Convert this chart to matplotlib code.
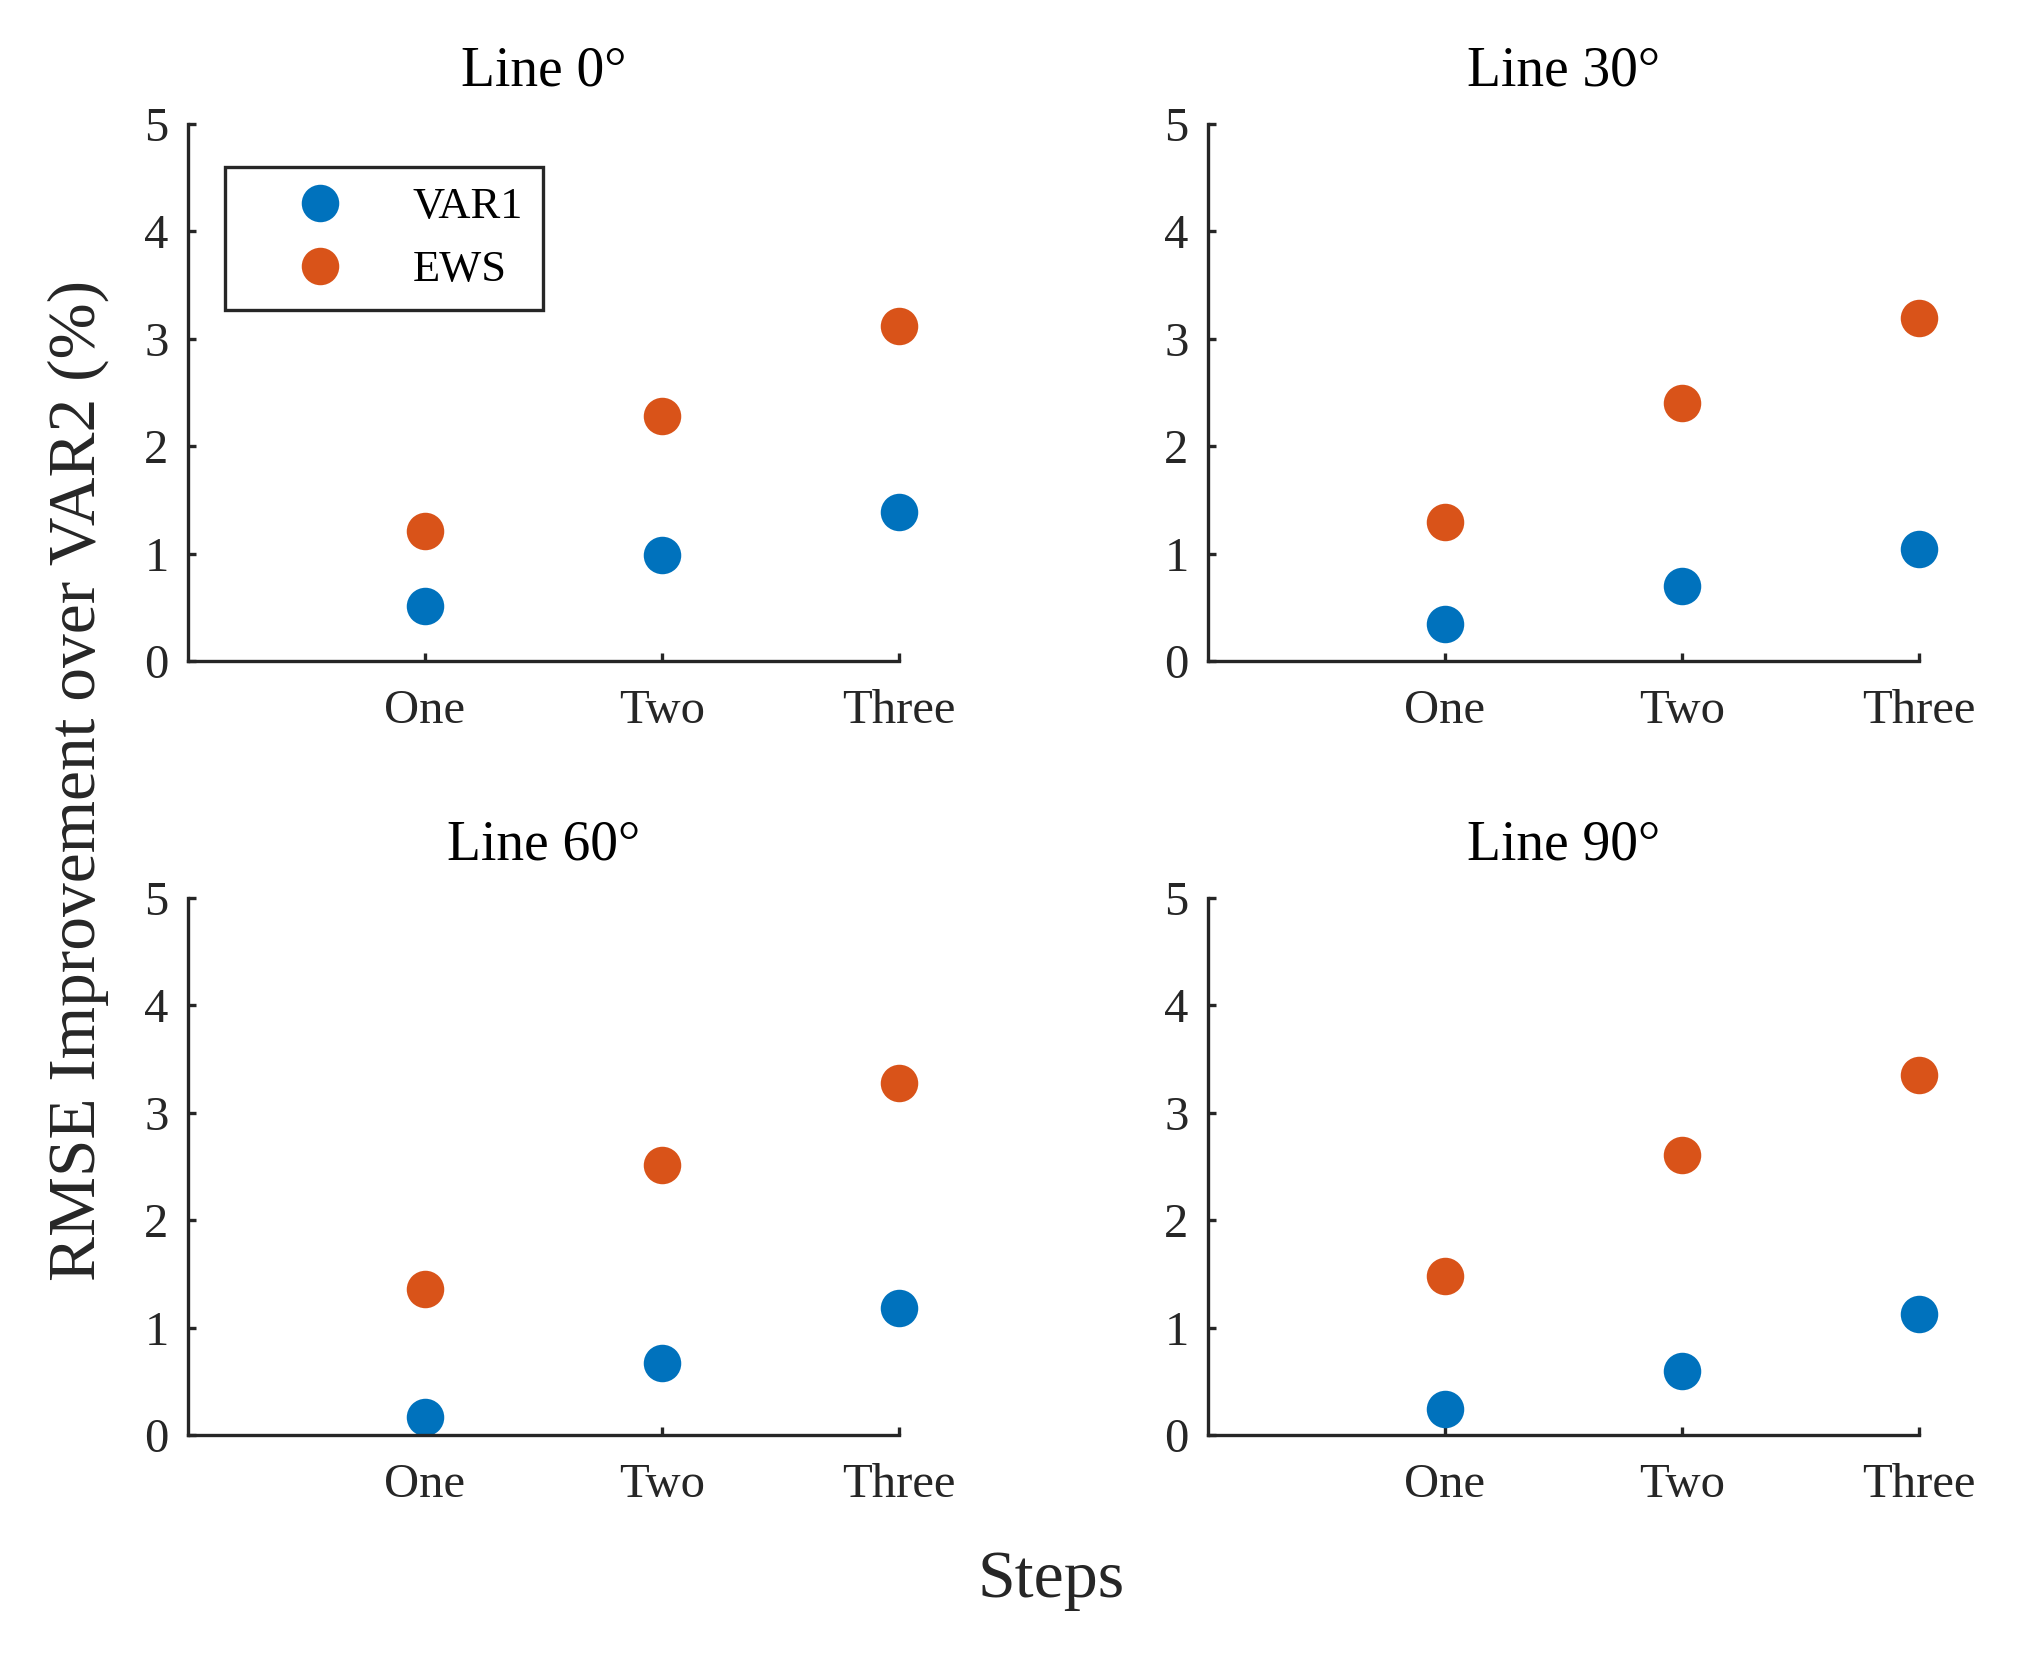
import matplotlib
matplotlib.use("Agg")
import matplotlib.pyplot as plt

plt.rcParams['font.family'] = ['Liberation Serif', 'DejaVu Serif']

steps = ['One', 'Two', 'Three']
titles = ['Line 0°', 'Line 30°', 'Line 60°', 'Line 90°']

var1 = [
    [0.51, 0.99, 1.39],
    [0.34, 0.70, 1.04],
    [0.17, 0.67, 1.18],
    [0.24, 0.60, 1.13],
]
ews = [
    [1.21, 2.28, 3.12],
    [1.29, 2.40, 3.19],
    [1.36, 2.51, 3.28],
    [1.48, 2.61, 3.35],
]

blue = '#0072BD'
orange = '#D95319'
ink = '#262626'

fig = plt.figure(figsize=(20.21, 16.6), dpi=100)

lefts = [0.0930, 0.5977, 0.0930, 0.5977]
bottoms = [0.6018, 0.6018, 0.1355, 0.1355]
w, h = 0.3518, 0.3235

xs = [1, 2, 3]
for i in range(4):
    ax = fig.add_axes([lefts[i], bottoms[i], w, h])
    ax.plot(xs, var1[i], 'o', color=blue, ms=27, mec='none', label='VAR1', clip_on=False)
    ax.plot(xs, ews[i], 'o', color=orange, ms=27, mec='none', label='EWS', clip_on=False)
    ax.set_xlim(0, 3)
    ax.set_ylim(0, 5)
    ax.set_xticks(xs)
    ax.set_xticklabels(steps)
    ax.set_yticks(range(6))
    for s in ['top', 'right']:
        ax.spines[s].set_visible(False)
    for s in ['left', 'bottom']:
        ax.spines[s].set_linewidth(2.4)
        ax.spines[s].set_color(ink)
    ax.tick_params(direction='in', length=6, width=2.4, color=ink,
                   labelcolor=ink, labelsize=35)
    ax.tick_params(axis='x', pad=20)
    ax.tick_params(axis='y', pad=14)
    ax.set_title(titles[i], fontsize=40, color='black', pad=28)

    if i == 0:
        leg = ax.legend(loc='upper left', bbox_to_anchor=(0.052, 0.920),
                        borderaxespad=0, fontsize=32, numpoints=1,
                        borderpad=0.45, handlelength=3.4, handletextpad=0.38,
                        labelspacing=0.52, fancybox=False, framealpha=1)
        leg.get_frame().set_edgecolor(ink)
        leg.get_frame().set_linewidth(2.4)

fig.text(0.0386, 0.53, 'RMSE Improvement over VAR2 (%)', rotation=90,
         ha='center', va='center', fontsize=48.5, color=ink)
fig.text(0.520, 0.038, 'Steps', ha='center', va='baseline', fontsize=49, color=ink)

fig.savefig('out.png', dpi=100)
